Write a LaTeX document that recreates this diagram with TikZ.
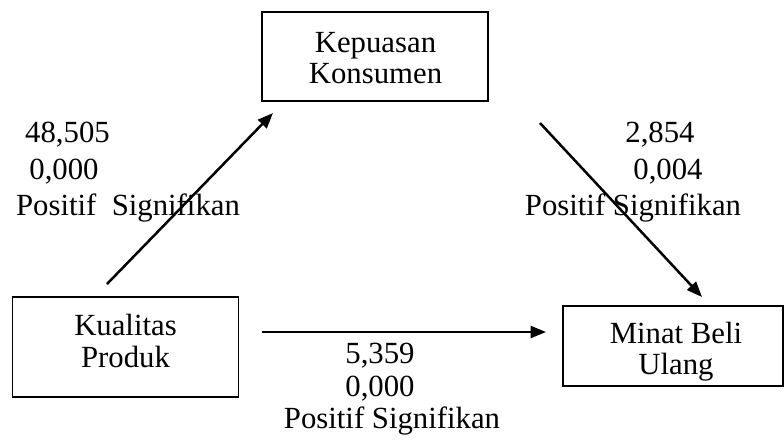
\documentclass[tikz,border=0pt]{standalone}
\usepackage{fontspec}
\setmainfont{Liberation Serif}
\usetikzlibrary{arrows.meta,positioning}

\begin{document}
\begin{tikzpicture}[x=0.4pt,y=-0.4pt,
  box/.style={draw,line width=0.6pt,inner sep=0pt},
  lbl/.style={anchor=base,inner sep=0pt,font=\fontsize{12.3}{12.6}\selectfont},
  arr/.style={line width=1pt,-{Triangle[length=6.2pt,width=4.8pt]}}]
  \useasboundingbox (0,0) rectangle (784,443);

	 \node at (375,56.5) [box,minimum width=90.4pt,minimum height=35.6pt] (kepuasan) {};
	 \node at (125.5,347) [box,minimum width=90.4pt,minimum height=40pt] (kualitas) {};
	 \node at (673,346) [box,minimum width=88pt,minimum height=32pt] (minat) {};

	 \node at (375.5,52) [lbl] (kepuasan1) {Kepuasan};
	 \node at (375.5,83) [lbl] (kepuasan2) {Konsumen};
	 \node at (125.5,335) [lbl] (kualitas1) {Kualitas};
	 \node at (125.5,367) [lbl] (kualitas2) {Produk};
	 \node at (676,343) [lbl] (minat1) {Minat Beli};
	 \node at (676,374) [lbl] (minat2) {Ulang};

	 \coordinate (a1) at (107,284);
	 \coordinate (a2) at (273,113);
	 \coordinate (b1) at (540,123);
	 \coordinate (b2) at (702,297);
	 \coordinate (c1) at (262,332);
	 \coordinate (c2) at (546,332);

	 \node at (67.5,142) [lbl] (kk1) {48,505};
	 \node at (64,179) [lbl] (kk2) {0,000};
	 \node at (128,215) [lbl] (kk3) {Positif\ \ Signifikan};

	 \node at (660,142) [lbl] (km1) {2,854};
	 \node at (668,179) [lbl] (km2) {0,004};
	 \node at (633,215) [lbl] (km3) {Positif Signifikan};

	 \node at (380,363) [lbl] (pm1) {5,359};
	 \node at (380,396) [lbl] (pm2) {0,000};
	 \node at (392,428) [lbl] (pm3) {Positif Signifikan};

	 \draw[arr] (a1) -- (a2);
	 \draw[arr] (b1) -- (b2);
	 \draw[arr] (c1) -- (c2);
\end{tikzpicture}
\end{document}
